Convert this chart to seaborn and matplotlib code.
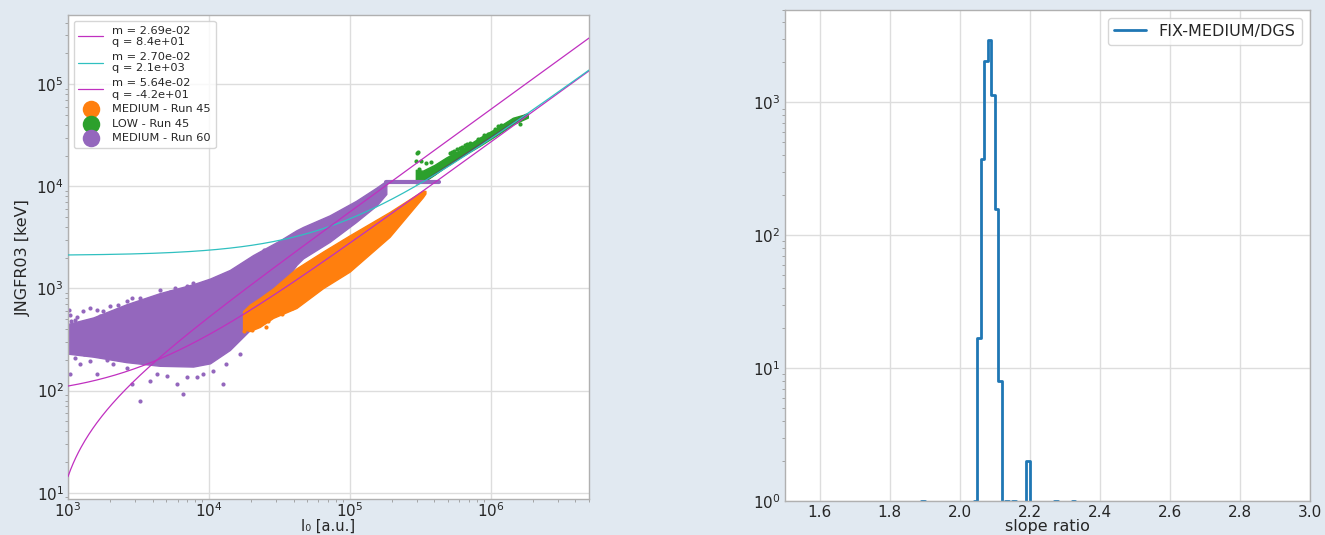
import numpy as np
import pandas as pd
import seaborn as sns
import matplotlib.pyplot as plt

sns.set_style('whitegrid')
plt.rcParams['font.family'] = ['DejaVu Sans']

bg = '#e1e9f1'

# linear fits y = m*x + q (values from legend)
fit_m = [2.69e-02, 2.70e-02, 5.64e-02]
fit_q = [8.4e+01, 2.1e+03, -4.2e+01]
fit_col = ['#c030c0', '#30c0c0', '#c030c0']
fit_lab = ['m = 2.69e-02\nq = 8.4e+01', 'm = 2.70e-02\nq = 2.1e+03', 'm = 5.64e-02\nq = -4.2e+01']

# dense cores of the scatter clouds (x, lower edge, upper edge)
run60_x = [1000, 1510, 2600, 4490, 7740, 10200, 14100, 20600, 31900, 41900, 46700, 72100, 111000, 155000, 182000]
run60_hi = [450, 520, 700, 900, 1100, 1250, 1517, 2120, 2950, 3710, 4000, 5190, 7200, 9700, 11330]
run60_lo = [230, 215, 190, 175, 172, 185, 250, 420, 1000, 1700, 1970, 2860, 4470, 6490, 8400]

med45_x = [17500, 19500, 23000, 28600, 41900, 64700, 100000, 192000, 331000, 345000]
med45_hi = [600, 693, 806, 1000, 1574, 2300, 3310, 5600, 9060, 9000]
med45_lo = [400, 383, 420, 515, 644, 1007, 1462, 3200, 7820, 8500]

low45_x = [295000, 330000, 400000, 485000, 620000, 836000, 1100000, 1440000, 1840000]
low45_hi = [14500, 14200, 16200, 19150, 23000, 29900, 37000, 46800, 51500]
low45_lo = [10700, 10900, 13000, 15840, 19500, 24800, 31500, 40300, 47000]

# sparse points around the cores
run60_px = [1010, 1030, 1120, 1285, 1430, 1600, 1780, 1990, 2275, 2605, 2830, 3240, 3615, 4140, 4490, 5280, 5740, 6950, 7740, 9120,
            1030, 1120, 1215, 1430, 1600, 2100, 2605, 2830, 3240, 3820, 4260, 5010, 5900, 6580, 6950, 8180, 9120, 10740, 12650, 13340, 16600,
            1183, 1285, 1090, 1050, 1150, 1350, 1700, 2000, 2400, 1300, 1900, 24500]
run60_py = [610, 555, 495, 597, 643, 620, 597, 668, 693, 747, 805, 805, 747, 805, 969, 933, 1007, 1045, 1125, 1125,
            145, 210, 181, 195, 145, 181, 168, 116, 80, 125, 145, 140, 116, 93, 135, 135, 145, 156, 116, 181, 226,
            263, 382, 329, 480, 520, 470, 540, 560, 620, 230, 200, 2400]

med45_px = [18500, 20100, 23000, 26400, 17800, 22000, 25500, 33000, 39000]
med45_py = [427, 396, 460, 478, 380, 520, 420, 560, 640]

low45_px = [305000, 297000, 322000, 350000, 380000, 313000, 299000, 512000, 530000, 555000, 580000, 603000, 630000, 654000, 680000, 710000,
            813000, 906000, 957000, 1070000, 1130000, 1190000, 1610000]
low45_py = [21700, 17700, 17700, 16800, 17100, 14700, 21200, 21400, 21800, 22200, 23000, 23900, 24500, 25200, 25800, 26300,
            29300, 31500, 32700, 36600, 38700, 39400, 40300]

# saturation of Run 60 and dark trace under LOW band
sat_x = [180000, 430000]
sat_y = [11100, 11100]
trace_x = [331000, 1790000]
trace_y = [10940, 50350]

# slope ratio histogram (bin centres, counts)
ratio_c = [1.895, 2.045, 2.055, 2.065, 2.075, 2.085, 2.095, 2.105, 2.115, 2.135, 2.155, 2.195, 2.275, 2.325]
ratio_n = [1, 1, 17, 374, 2047, 2955, 1146, 157, 8, 1, 1, 2, 1, 1]

fig = plt.figure(figsize=(13.25, 5.35), dpi=100, facecolor=bg)
ax1 = fig.add_axes([0.0513, 0.0673, 0.3932, 0.9039])
ax2 = fig.add_axes([0.5921, 0.0636, 0.3966, 0.9185])

ax1.set_xscale('log')
ax1.set_yscale('log')

xs = np.logspace(3, np.log10(5e6), 400)
for m, q, c, lab in zip(fit_m, fit_q, fit_col, fit_lab):
    sns.lineplot(x=xs, y=m * xs + q, ax=ax1, color=c, lw=0.9, label=lab, estimator=None, sort=False, zorder=4)

c_med, c_low, c_r60 = '#ff7f0e', '#2ca02c', '#9467bd'

ax1.fill_between(run60_x, run60_lo, run60_hi, color=c_r60, lw=1, zorder=1.5)
ax1.fill_between(med45_x, med45_lo, med45_hi, color=c_med, lw=1, zorder=1.6)
ax1.fill_between(low45_x, low45_lo, low45_hi, color=c_low, lw=1, zorder=1.6)

sns.scatterplot(x=med45_px, y=med45_py, ax=ax1, color=c_med, s=9, linewidth=0, label='MEDIUM - Run 45', zorder=1.6)
sns.scatterplot(x=low45_px, y=low45_py, ax=ax1, color=c_low, s=9, linewidth=0, label='LOW - Run 45', zorder=1.6)
sns.lineplot(x=trace_x, y=trace_y, ax=ax1, color='#555555', lw=1.4, zorder=1.65)
sns.scatterplot(x=run60_px, y=run60_py, ax=ax1, color=c_r60, s=9, linewidth=0, label='MEDIUM - Run 60', zorder=1.5)
sns.lineplot(x=sat_x, y=sat_y, ax=ax1, color=c_r60, lw=3, zorder=1.7)

ax1.set_xlim(1e3, 5e6)
ax1.set_ylim(8.7, 4.7e5)
ax1.set_xlabel('I₀ [a.u.]', fontsize=10.5, color='#262626', labelpad=-1.5)
ax1.set_ylabel('JNGFR03 [keV]', fontsize=11.5, color='#262626')

h, l = ax1.get_legend_handles_labels()
order = fit_lab + ['MEDIUM - Run 45', 'LOW - Run 45', 'MEDIUM - Run 60']
hd = dict(zip(l, h))
ax1.legend([hd[k] for k in order], order, loc='upper left', fontsize=8.2, markerscale=4.2,
           handlelength=2.2, labelspacing=0.4, borderpad=0.4)

hist_df = pd.DataFrame({'ratio': ratio_c, 'n': ratio_n})
sns.histplot(data=hist_df, x='ratio', weights='n', binwidth=0.01, binrange=(1.5, 3.0),
             element='step', fill=False, ax=ax2, color='#1f77b4', lw=2, label='FIX-MEDIUM/DGS')
ax2.set_yscale('log')
ax2.set_xlim(1.5, 3.0)
ax2.set_ylim(1, 5000)
ax2.set_xticks([1.6, 1.8, 2.0, 2.2, 2.4, 2.6, 2.8, 3.0])
ax2.set_ylabel('')
ax2.set_xlabel('slope ratio', fontsize=11.5, color='#262626', labelpad=-1)
ax2.legend(loc='upper right', fontsize=11.5, handlelength=2.0)

for ax in (ax1, ax2):
    ax.set_facecolor('white')
    ax.grid(which='major', color='#dddddd', lw=1)
    ax.grid(which='minor', visible=False)
    for s in ax.spines.values():
        s.set_color('#b0b0b0')
        s.set_linewidth(1)
    ax.tick_params(which='major', length=0, pad=3, labelsize=11, labelcolor='#262626')
    ax.tick_params(which='minor', bottom=True, left=True, length=2, width=0.6, color='#999999')
ax1.tick_params(axis='x', which='major', pad=2)
ax2.tick_params(axis='x', which='minor', bottom=False)

plt.savefig('out.png', dpi=100, facecolor=bg)
